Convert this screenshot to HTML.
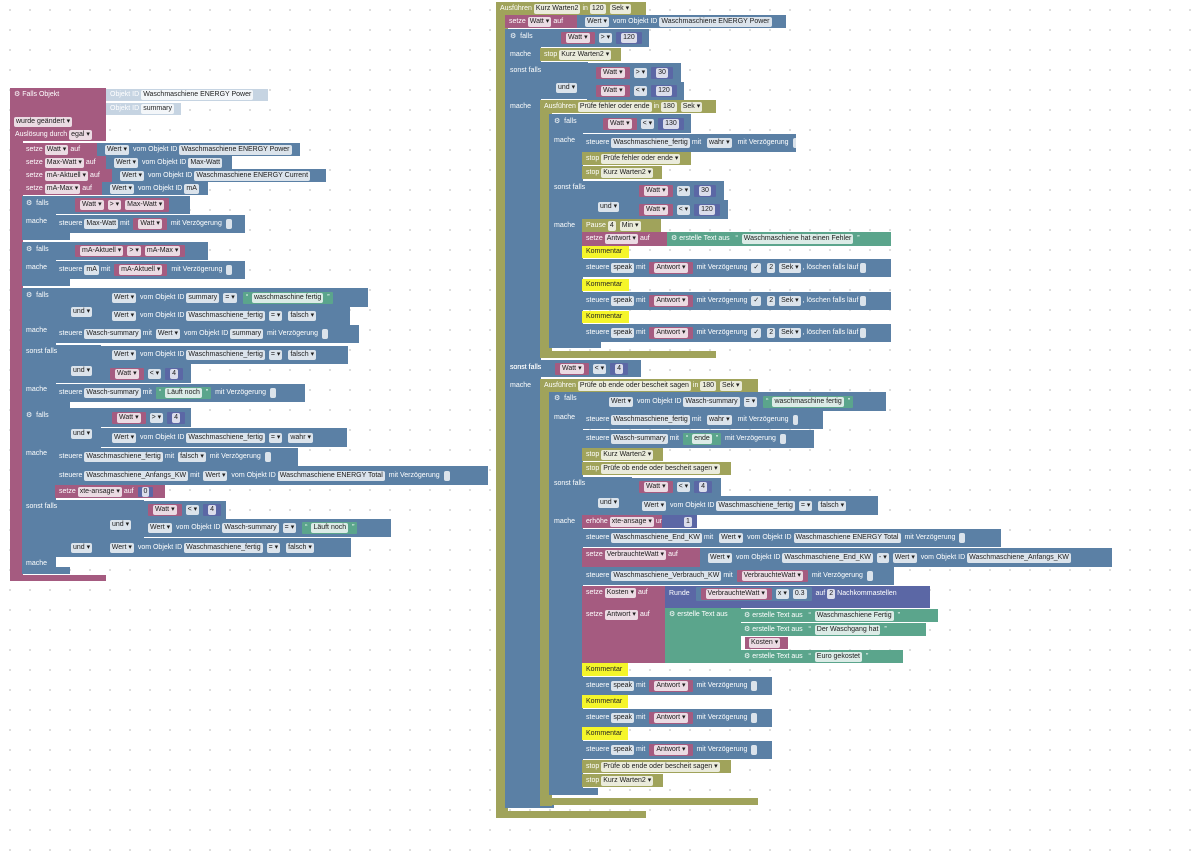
<!DOCTYPE html>
<html><head><meta charset="utf-8"><style>
body{margin:0;width:1200px;height:866px;background:#fff radial-gradient(circle,#d8d8d8 0.8px,transparent 1.2px) 0 0/20px 20px;position:relative;overflow:hidden;font-family:"Liberation Sans",sans-serif}
.b{position:absolute;height:13px;font-size:7px;line-height:13px;color:#fff;white-space:nowrap;padding-left:4px;box-sizing:border-box;overflow:hidden}
.t{position:absolute;font-size:7px;line-height:13px;color:#fff;white-space:nowrap;z-index:5}
.p{background:#a55b80}.u{background:#5b80a5}.o{background:#a0a35b}.g{background:#5ba58c}.n{background:#5b67a5}.y{background:#f5f52a;color:#222}.l{background:#c6d4e2}
.f{background:rgba(255,255,255,.78);color:#1c1c1c;border-radius:2px;padding:0 2px;margin:0 2px;line-height:10px;display:inline-block}
.s{display:inline-block;padding:1px 3px;line-height:10px;margin:0 2px;border-radius:1px}
</style></head><body>

<!-- LEFT SCRIPT -->
<div class="b p" style="left:10px;top:88px;width:13px;height:493px;padding:0"></div>
<div class="b p" style="left:10px;top:575px;width:96px;height:6px;padding:0"></div>
<div class="b p" style="left:10px;top:88px;width:96px;height:53px">&#9881; Falls Objekt</div>
<div class="b l" style="left:106px;top:89px;width:162px;height:12px;line-height:12px">Objekt ID<span class="f">Waschmaschiene ENERGY  Power</span></div>
<div class="b l" style="left:106px;top:103px;width:75px;height:12px;line-height:12px">Objekt ID<span class="f">summary</span></div>
<div class="t" style="left:12px;top:115px"><span class="f">wurde geändert ▾</span></div>
<div class="t" style="left:15px;top:128px">Auslösung durch<span class="f">egal ▾</span></div>

<div class="b p" style="left:22px;top:143px;width:76px">setze<span class="f">Watt ▾</span>auf</div>
<div class="b u" style="left:97px;top:143px;width:203px">&nbsp;<span class="f">Wert ▾</span> vom Objekt ID<span class="f">Waschmaschiene ENERGY  Power</span></div>
<div class="b p" style="left:22px;top:156px;width:85px">setze<span class="f">Max-Watt ▾</span>auf</div>
<div class="b u" style="left:106px;top:156px;width:126px">&nbsp;<span class="f">Wert ▾</span> vom Objekt ID<span class="f">Max-Watt</span></div>
<div class="b p" style="left:22px;top:169px;width:91px">setze<span class="f">mA-Aktuell ▾</span>auf</div>
<div class="b u" style="left:112px;top:169px;width:214px">&nbsp;<span class="f">Wert ▾</span> vom Objekt ID<span class="f">Waschmaschiene ENERGY  Current</span></div>
<div class="b p" style="left:22px;top:182px;width:81px">setze<span class="f">mA-Max ▾</span>auf</div>
<div class="b u" style="left:102px;top:182px;width:106px">&nbsp;<span class="f">Wert ▾</span> vom Objekt ID<span class="f">mA</span></div>

<!-- if 1 -->
<div class="b u" style="left:22px;top:196px;width:34px;height:44px"></div>
<div class="b u" style="left:22px;top:196px;width:168px;height:18px;padding-left:51px;line-height:18px"><span class="s p" style="padding:2px 3px"><span class="f">Watt ▾</span><span class="f">&gt; ▾</span><span class="f">Max-Watt ▾</span></span></div>
<div class="b u" style="left:55px;top:215px;width:190px;height:18px;line-height:18px">steuere<span class="f">Max-Watt</span>mit <span class="s p"><span class="f">Watt ▾</span></span> mit Verzögerung <span class="f">&nbsp;</span></div>
<div class="b u" style="left:22px;top:233px;width:48px;height:7px;padding:0"></div>
<div class="t" style="left:26px;top:197px">&#9881; &nbsp;falls</div>
<div class="t" style="left:26px;top:215px">mache</div>
<!-- if 2 -->
<div class="b u" style="left:22px;top:242px;width:34px;height:44px"></div>
<div class="b u" style="left:22px;top:242px;width:186px;height:18px;padding-left:51px;line-height:18px"><span class="s p"><span class="f">mA-Aktuell ▾</span><span class="f">&gt; ▾</span><span class="f">mA-Max ▾</span></span></div>
<div class="b u" style="left:55px;top:261px;width:190px;height:18px;line-height:18px">steuere<span class="f">mA</span>mit <span class="s p"><span class="f">mA-Aktuell ▾</span></span> mit Verzögerung <span class="f">&nbsp;</span></div>
<div class="b u" style="left:22px;top:279px;width:48px;height:7px;padding:0"></div>
<div class="t" style="left:26px;top:243px">&#9881; &nbsp;falls</div>
<div class="t" style="left:26px;top:261px">mache</div>
<!-- if 3 -->
<div class="b u" style="left:22px;top:288px;width:34px;height:120px"></div>
<div class="b u" style="left:55px;top:288px;width:46px;height:37px;line-height:48px;padding-left:14px"><span class="f">und ▾</span></div>
<div class="b u" style="left:100px;top:288px;width:268px;height:19px;line-height:19px;padding-left:10px"><span class="f">Wert ▾</span> vom Objekt ID<span class="f">summary</span><span class="f">= ▾</span> <span class="s g">“ <span class="f">waschmaschine fertig</span> ”</span></div>
<div class="b u" style="left:100px;top:307px;width:250px;height:18px;line-height:18px;padding-left:10px"><span class="f">Wert ▾</span> vom Objekt ID<span class="f">Waschmaschiene_fertig</span><span class="f">= ▾</span> <span class="f">falsch ▾</span></div>
<div class="b u" style="left:55px;top:325px;width:304px;height:18px;line-height:18px">steuere<span class="f">Wasch-summary</span>mit <span class="f">Wert ▾</span> vom Objekt ID<span class="f">summary</span> mit Verzögerung <span class="f">&nbsp;</span></div>
<div class="b u" style="left:55px;top:345px;width:46px;height:38px;line-height:52px;padding-left:14px"><span class="f">und ▾</span></div>
<div class="b u" style="left:100px;top:346px;width:248px;height:18px;line-height:18px;padding-left:10px"><span class="f">Wert ▾</span> vom Objekt ID<span class="f">Waschmaschiene_fertig</span><span class="f">= ▾</span> <span class="f">falsch ▾</span></div>
<div class="b u" style="left:100px;top:364px;width:91px;height:19px;line-height:19px;padding-left:8px"><span class="s p"><span class="f">Watt ▾</span></span><span class="f">&lt; ▾</span><span class="s n"><span class="f">4</span></span></div>
<div class="b u" style="left:55px;top:384px;width:250px;height:18px;line-height:18px">steuere<span class="f">Wasch-summary</span>mit <span class="s g">“ <span class="f">Läuft noch</span> ”</span> mit Verzögerung <span class="f">&nbsp;</span></div>
<div class="b u" style="left:22px;top:400px;width:48px;height:8px;padding:0"></div>
<div class="t" style="left:26px;top:289px">&#9881; &nbsp;falls</div>
<div class="t" style="left:26px;top:324px">mache</div>
<div class="t" style="left:26px;top:345px">sonst falls</div>
<div class="t" style="left:26px;top:383px">mache</div>
<!-- if 4 -->
<div class="b u" style="left:22px;top:408px;width:34px;height:166px"></div>
<div class="b u" style="left:55px;top:408px;width:46px;height:40px;line-height:52px;padding-left:14px"><span class="f">und ▾</span></div>
<div class="b u" style="left:100px;top:408px;width:91px;height:19px;line-height:19px;padding-left:10px"><span class="s p"><span class="f">Watt ▾</span></span><span class="f">&gt; ▾</span><span class="s n"><span class="f">4</span></span></div>
<div class="b u" style="left:100px;top:428px;width:247px;height:19px;line-height:19px;padding-left:10px"><span class="f">Wert ▾</span> vom Objekt ID<span class="f">Waschmaschiene_fertig</span><span class="f">= ▾</span> <span class="f">wahr ▾</span></div>
<div class="b u" style="left:55px;top:448px;width:243px;height:18px;line-height:18px">steuere<span class="f">Waschmaschiene_fertig</span>mit <span class="f">falsch ▾</span> mit Verzögerung <span class="f">&nbsp;</span></div>
<div class="b u" style="left:55px;top:466px;width:433px;height:19px;line-height:19px">steuere<span class="f">Waschmaschiene_Anfangs_KW</span>mit <span class="f">Wert ▾</span> vom Objekt ID<span class="f">Waschmaschiene ENERGY  Total</span> mit Verzögerung <span class="f">&nbsp;</span></div>
<div class="b p" style="left:55px;top:485px;width:110px">setze<span class="f">xte-ansage ▾</span>auf <span class="s n" style="padding:0 2px"><span class="f">0</span></span></div>
<div class="b u" style="left:55px;top:500px;width:46px;height:57px;padding:0"></div>
<div class="b u" style="left:100px;top:500px;width:44px;height:38px;line-height:50px;padding-left:8px"><span class="f">und ▾</span></div>
<div class="b u" style="left:140px;top:501px;width:86px;height:18px;line-height:18px;padding-left:6px"><span class="s p"><span class="f">Watt ▾</span></span><span class="f">&lt; ▾</span><span class="s n"><span class="f">4</span></span></div>
<div class="b u" style="left:140px;top:519px;width:251px;height:18px;line-height:18px;padding-left:6px"><span class="f">Wert ▾</span> vom Objekt ID<span class="f">Wasch-summary</span><span class="f">= ▾</span> <span class="s g">“ <span class="f">Läuft noch</span> ”</span></div>
<div class="b u" style="left:55px;top:538px;width:296px;height:19px;line-height:19px;padding-left:14px"><span class="f">und ▾</span> &nbsp; &nbsp; &nbsp; <span class="f">Wert ▾</span> vom Objekt ID<span class="f">Waschmaschiene_fertig</span><span class="f">= ▾</span> <span class="f">falsch ▾</span></div>
<div class="b u" style="left:22px;top:557px;width:34px;height:17px;padding:0"></div>
<div class="b u" style="left:22px;top:567px;width:48px;height:7px;padding:0"></div>
<div class="t" style="left:26px;top:409px">&#9881; &nbsp;falls</div>
<div class="t" style="left:26px;top:447px">mache</div>
<div class="t" style="left:26px;top:500px">sonst falls</div>
<div class="t" style="left:26px;top:557px">mache</div>

<!-- RIGHT SCRIPT -->
<div class="b o" style="left:496px;top:2px;width:12px;height:816px;padding:0"></div>
<div class="b o" style="left:496px;top:811px;width:150px;height:7px;padding:0"></div>
<div class="b o" style="left:496px;top:2px;width:150px">Ausführen<span class="f">Kurz Warten2</span>in<span class="f">120</span><span class="f">Sek ▾</span></div>
<div class="b p" style="left:505px;top:15px;width:73px">setze<span class="f">Watt ▾</span>auf</div>
<div class="b u" style="left:577px;top:15px;width:209px">&nbsp;<span class="f">Wert ▾</span> vom Objekt ID<span class="f">Waschmaschiene ENERGY  Power</span></div>
<div class="b u" style="left:505px;top:29px;width:36px;height:779px;padding:0"></div>
<div class="b u" style="left:505px;top:801px;width:49px;height:7px;padding:0"></div>
<div class="b u" style="left:505px;top:29px;width:144px;height:18px;line-height:18px;padding-left:54px"><span class="s p"><span class="f">Watt ▾</span></span><span class="f">&gt; ▾</span><span class="s n"><span class="f">120</span></span></div>
<div class="b o" style="left:540px;top:48px;width:81px">stop<span class="f">Kurz Warten2 ▾</span></div>
<div class="b u" style="left:540px;top:62px;width:48px;height:37px;line-height:52px;padding-left:14px"><span class="f">und ▾</span></div>
<div class="b u" style="left:587px;top:63px;width:94px;height:19px;line-height:19px;padding-left:7px"><span class="s p"><span class="f">Watt ▾</span></span><span class="f">&gt; ▾</span><span class="s n"><span class="f">30</span></span></div>
<div class="b u" style="left:587px;top:82px;width:97px;height:18px;line-height:18px;padding-left:7px"><span class="s p"><span class="f">Watt ▾</span></span><span class="f">&lt; ▾</span><span class="s n"><span class="f">120</span></span></div>
<div class="t" style="left:510px;top:30px">&#9881; &nbsp;falls</div>
<div class="t" style="left:510px;top:48px">mache</div>
<div class="t" style="left:510px;top:64px">sonst falls</div>
<div class="t" style="left:510px;top:100px">mache</div>
<div class="t" style="left:510px;top:361px">sonst falls</div>
<div class="t" style="left:510px;top:379px">mache</div>

<!-- inner 1 -->
<div class="b o" style="left:540px;top:100px;width:12px;height:258px;padding:0"></div>
<div class="b o" style="left:540px;top:351px;width:176px;height:7px;padding:0"></div>
<div class="b o" style="left:540px;top:100px;width:176px">Ausführen<span class="f">Prüfe fehler oder ende</span>in<span class="f">180</span><span class="f">Sek ▾</span></div>
<div class="b u" style="left:549px;top:114px;width:34px;height:234px;padding:0"></div>
<div class="b u" style="left:549px;top:341px;width:52px;height:7px;padding:0"></div>
<div class="b u" style="left:549px;top:114px;width:142px;height:19px;line-height:19px;padding-left:52px"><span class="s p"><span class="f">Watt ▾</span></span><span class="f">&lt; ▾</span><span class="s n"><span class="f">130</span></span></div>
<div class="b u" style="left:582px;top:134px;width:214px;height:18px;line-height:18px">steuere<span class="f">Waschmaschiene_fertig</span>mit &nbsp;<span class="f">wahr ▾</span> &nbsp;mit Verzögerung <span class="f">&nbsp;</span></div>
<div class="b o" style="left:582px;top:152px;width:109px">stop<span class="f">Prüfe fehler oder ende ▾</span></div>
<div class="b o" style="left:582px;top:166px;width:80px">stop<span class="f">Kurz Warten2 ▾</span></div>
<div class="b u" style="left:582px;top:181px;width:50px;height:38px;line-height:52px;padding-left:14px"><span class="f">und ▾</span></div>
<div class="b u" style="left:630px;top:181px;width:94px;height:19px;line-height:19px;padding-left:7px"><span class="s p"><span class="f">Watt ▾</span></span><span class="f">&gt; ▾</span><span class="s n"><span class="f">30</span></span></div>
<div class="b u" style="left:630px;top:200px;width:98px;height:19px;line-height:19px;padding-left:7px"><span class="s p"><span class="f">Watt ▾</span></span><span class="f">&lt; ▾</span><span class="s n"><span class="f">120</span></span></div>
<div class="b o" style="left:582px;top:219px;width:79px">Pause<span class="f">4</span><span class="f">Min ▾</span></div>
<div class="b p" style="left:582px;top:232px;width:86px;height:14px">setze<span class="f">Antwort ▾</span>auf</div>
<div class="b g" style="left:667px;top:232px;width:224px;height:14px">&#9881; erstelle Text aus &nbsp; “ <span class="f">Waschmaschiene hat einen Fehler</span> ”</div>
<div class="b y" style="left:582px;top:246px;width:47px;height:12px;line-height:12px">Kommentar</div>
<div class="b u" style="left:582px;top:259px;width:309px;height:18px;line-height:18px">steuere<span class="f">speak</span>mit <span class="s p"><span class="f">Antwort ▾</span></span> mit Verzögerung <span class="f">✓</span> <span class="f">2</span><span class="f">Sek ▾</span>, löschen falls läuf<span class="f">&nbsp;</span></div>
<div class="b y" style="left:582px;top:279px;width:47px;height:12px;line-height:12px">Kommentar</div>
<div class="b u" style="left:582px;top:292px;width:309px;height:18px;line-height:18px">steuere<span class="f">speak</span>mit <span class="s p"><span class="f">Antwort ▾</span></span> mit Verzögerung <span class="f">✓</span> <span class="f">2</span><span class="f">Sek ▾</span>, löschen falls läuf<span class="f">&nbsp;</span></div>
<div class="b y" style="left:582px;top:311px;width:47px;height:12px;line-height:12px">Kommentar</div>
<div class="b u" style="left:582px;top:324px;width:309px;height:18px;line-height:18px">steuere<span class="f">speak</span>mit <span class="s p"><span class="f">Antwort ▾</span></span> mit Verzögerung <span class="f">✓</span> <span class="f">2</span><span class="f">Sek ▾</span>, löschen falls läuf<span class="f">&nbsp;</span></div>
<div class="t" style="left:554px;top:115px">&#9881; &nbsp;falls</div>
<div class="t" style="left:554px;top:134px">mache</div>
<div class="t" style="left:554px;top:181px">sonst falls</div>
<div class="t" style="left:554px;top:219px">mache</div>

<div class="b u" style="left:505px;top:360px;width:136px;height:17px;line-height:17px;padding-left:48px"><span class="s p"><span class="f">Watt ▾</span></span><span class="f">&lt; ▾</span><span class="s n"><span class="f">4</span></span></div>
<div class="t" style="left:510px;top:361px">sonst falls</div>

<!-- inner 2 -->
<div class="b o" style="left:540px;top:379px;width:12px;height:427px;padding:0"></div>
<div class="b o" style="left:540px;top:798px;width:218px;height:7px;padding:0"></div>
<div class="b o" style="left:540px;top:379px;width:218px">Ausführen<span class="f">Prüfe ob ende oder bescheit sagen</span>in<span class="f">180</span><span class="f">Sek ▾</span></div>
<div class="b u" style="left:549px;top:392px;width:34px;height:403px;padding:0"></div>
<div class="b u" style="left:549px;top:788px;width:49px;height:7px;padding:0"></div>
<div class="b u" style="left:549px;top:392px;width:337px;height:19px;line-height:19px;padding-left:58px"><span class="f">Wert ▾</span> vom Objekt ID<span class="f">Wasch-summary</span><span class="f">= ▾</span> <span class="s g">“ <span class="f">waschmaschine fertig</span> ”</span></div>
<div class="b u" style="left:582px;top:411px;width:241px;height:18px;line-height:18px">steuere<span class="f">Waschmaschiene_fertig</span>mit &nbsp;<span class="f">wahr ▾</span> &nbsp;mit Verzögerung <span class="f">&nbsp;</span></div>
<div class="b u" style="left:582px;top:430px;width:232px;height:18px;line-height:18px">steuere<span class="f">Wasch-summary</span>mit <span class="s g">“ <span class="f">ende</span> ”</span> mit Verzögerung <span class="f">&nbsp;</span></div>
<div class="b o" style="left:582px;top:448px;width:81px">stop<span class="f">Kurz Warten2 ▾</span></div>
<div class="b o" style="left:582px;top:462px;width:149px">stop<span class="f">Prüfe ob ende oder bescheit sagen ▾</span></div>
<div class="b u" style="left:582px;top:477px;width:50px;height:38px;line-height:52px;padding-left:14px"><span class="f">und ▾</span></div>
<div class="b u" style="left:630px;top:478px;width:91px;height:18px;line-height:18px;padding-left:7px"><span class="s p"><span class="f">Watt ▾</span></span><span class="f">&lt; ▾</span><span class="s n"><span class="f">4</span></span></div>
<div class="b u" style="left:630px;top:496px;width:248px;height:19px;line-height:19px;padding-left:10px"><span class="f">Wert ▾</span> vom Objekt ID<span class="f">Waschmaschiene_fertig</span><span class="f">= ▾</span> <span class="f">falsch ▾</span></div>
<div class="b p" style="left:582px;top:515px;width:83px">erhöhe<span class="f">xte-ansage ▾</span>um</div>
<div class="b n" style="left:662px;top:515px;width:35px;padding-left:20px"><span class="f">1</span></div>
<div class="b u" style="left:582px;top:529px;width:419px;height:18px;line-height:18px">steuere<span class="f">Waschmaschiene_End_KW</span>mit &nbsp;<span class="f">Wert ▾</span> vom Objekt ID<span class="f">Waschmaschiene ENERGY  Total</span> mit Verzögerung <span class="f">&nbsp;</span></div>
<div class="b p" style="left:582px;top:548px;width:120px;height:19px;line-height:14px">setze<span class="f">VerbrauchteWatt ▾</span>auf</div>
<div class="b u" style="left:700px;top:548px;width:412px;height:19px;line-height:19px;padding-left:6px"><span class="f">Wert ▾</span> vom Objekt ID<span class="f">Waschmaschiene_End_KW</span><span class="f">- ▾</span><span class="f">Wert ▾</span> vom Objekt ID<span class="f">Waschmaschiene_Anfangs_KW</span></div>
<div class="b u" style="left:582px;top:567px;width:312px;height:18px;line-height:18px">steuere<span class="f">Waschmaschiene_Verbrauch_KW</span>mit <span class="s p"><span class="f">VerbrauchteWatt ▾</span></span> mit Verzögerung <span class="f">&nbsp;</span></div>
<div class="b p" style="left:582px;top:586px;width:84px;height:22px">setze<span class="f">Kosten ▾</span>auf</div>
<div class="b n" style="left:665px;top:586px;width:265px;height:22px;line-height:16px">Runde &nbsp;<span class="s u"><span class="s p"><span class="f">VerbrauchteWatt ▾</span></span><span class="f">x ▾</span><span class="f">0.3</span></span> auf<span class="f">2</span>Nachkommastellen</div>
<div class="b p" style="left:582px;top:608px;width:84px;height:55px">setze<span class="f">Antwort ▾</span>auf</div>
<div class="b g" style="left:665px;top:608px;width:76px;height:55px">&#9881; erstelle Text aus</div>
<div class="b g" style="left:740px;top:609px;width:198px;height:13px">&#9881; erstelle Text aus &nbsp; “ <span class="f">Waschmaschiene Fertig</span> ”</div>
<div class="b g" style="left:740px;top:623px;width:186px;height:13px">&#9881; erstelle Text aus &nbsp; “ <span class="f">Der Waschgang hat</span> ”</div>
<div class="b p" style="left:745px;top:637px;width:43px;height:12px;line-height:12px;padding-left:2px"><span class="f">Kosten ▾</span></div>
<div class="b g" style="left:740px;top:650px;width:163px;height:13px">&#9881; erstelle Text aus &nbsp; “ <span class="f">Euro gekostet</span> ”</div>
<div class="b y" style="left:582px;top:663px;width:46px;height:13px">Kommentar</div>
<div class="b u" style="left:582px;top:677px;width:190px;height:18px;line-height:18px">steuere<span class="f">speak</span>mit <span class="s p"><span class="f">Antwort ▾</span></span> mit Verzögerung <span class="f">&nbsp;</span></div>
<div class="b y" style="left:582px;top:695px;width:46px;height:13px">Kommentar</div>
<div class="b u" style="left:582px;top:709px;width:190px;height:18px;line-height:18px">steuere<span class="f">speak</span>mit <span class="s p"><span class="f">Antwort ▾</span></span> mit Verzögerung <span class="f">&nbsp;</span></div>
<div class="b y" style="left:582px;top:727px;width:46px;height:13px">Kommentar</div>
<div class="b u" style="left:582px;top:741px;width:190px;height:18px;line-height:18px">steuere<span class="f">speak</span>mit <span class="s p"><span class="f">Antwort ▾</span></span> mit Verzögerung <span class="f">&nbsp;</span></div>
<div class="b o" style="left:582px;top:760px;width:149px">stop<span class="f">Prüfe ob ende oder bescheit sagen ▾</span></div>
<div class="b o" style="left:582px;top:774px;width:81px">stop<span class="f">Kurz Warten2 ▾</span></div>
<div class="t" style="left:554px;top:392px">&#9881; &nbsp;falls</div>
<div class="t" style="left:554px;top:411px">mache</div>
<div class="t" style="left:554px;top:477px">sonst falls</div>
<div class="t" style="left:554px;top:515px">mache</div>
</body></html>
